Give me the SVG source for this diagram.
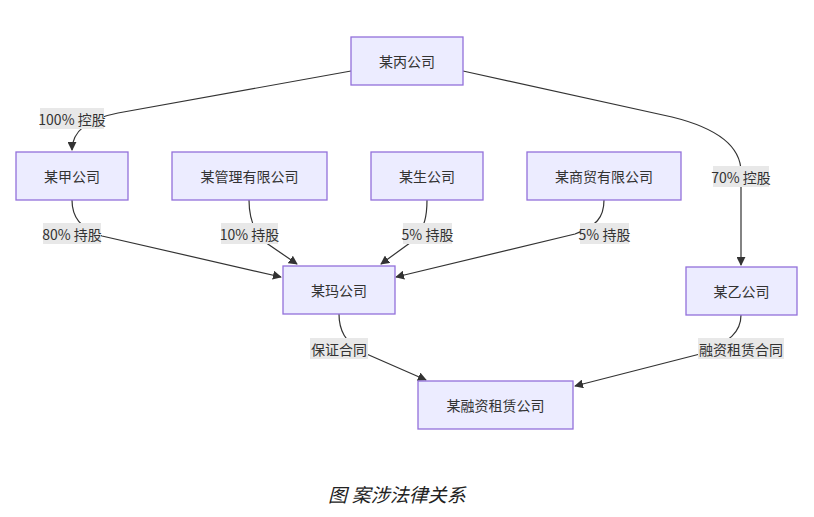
<svg xmlns="http://www.w3.org/2000/svg" width="814" height="517" viewBox="0 0 814 517">
<defs>
<marker id="arrow" viewBox="0 0 10 10" refX="9" refY="5" markerWidth="9" markerHeight="9" markerUnits="userSpaceOnUse" orient="auto">
<path d="M0,0 L10,5 L0,10 z" fill="#333"/>
</marker>
</defs>
<style>
.node rect{fill:#ECECFF;stroke:#9370DB;stroke-width:1.3}
.node text,.lbl text{font-family:"Noto Sans CJK SC","Noto Sans",sans-serif;font-size:14px;fill:#333;text-anchor:middle;dominant-baseline:central}
.edge{fill:none;stroke:#333;stroke-width:1.2;marker-end:url(#arrow)}
.lbl rect{fill:#e8e8e8}
.cap{font-family:"Liberation Serif","Noto Sans CJK SC",serif;font-size:19px;font-style:italic;fill:#222;text-anchor:middle}
</style>
<rect width="814" height="517" fill="#fff"/>
<g id="connectors">
<path class="edge" d="M351,71 L118,113 Q72,122 72,150"/>
<path class="edge" d="M463,71 L672,117 Q741,134 741,172 L741,265"/>
<path class="edge" d="M72,200 C72,217 80,228 102,236 L281,277"/>
<path class="edge" d="M249,200 C249,215 252,228 262,240 L297,264"/>
<path class="edge" d="M427,200 C427,215 425,228 414,240 L381,264"/>
<path class="edge" d="M604,200 C604,218 596,226 575,234 L396,277"/>
<path class="edge" d="M339,314 C339,330 345,342 362,352 L426,380"/>
<path class="edge" d="M741,315 C741,332 730,342 700,354 L575,386"/>
</g>
<g id="labels">
<g class="lbl"><rect x="40" y="108" width="64" height="21"/><text x="72" y="118.5">100% 控股</text></g>
<g class="lbl"><rect x="713" y="166" width="56" height="21"/><text x="741" y="176.5">70% 控股</text></g>
<g class="lbl"><rect x="43" y="223" width="58" height="21"/><text x="72" y="233.5">80% 持股</text></g>
<g class="lbl"><rect x="221" y="223" width="57" height="21"/><text x="249.5" y="233.5">10% 持股</text></g>
<g class="lbl"><rect x="403" y="223" width="49" height="21"/><text x="427.5" y="233.5">5% 持股</text></g>
<g class="lbl"><rect x="580" y="223" width="49" height="21"/><text x="604.5" y="233.5">5% 持股</text></g>
<g class="lbl"><rect x="310" y="338" width="58" height="21"/><text x="339" y="348.5">保证合同</text></g>
<g class="lbl"><rect x="698" y="338" width="86" height="21"/><text x="741" y="348.5">融资租赁合同</text></g>
</g>
<g id="n-bing" class="node"><rect x="351" y="37" width="112" height="48"/><text x="407" y="61">某丙公司</text></g>
<g id="n-jia" class="node"><rect x="16" y="152" width="112" height="48"/><text x="72" y="176">某甲公司</text></g>
<g id="n-guanli" class="node"><rect x="172" y="152" width="155" height="48"/><text x="249.5" y="176">某管理有限公司</text></g>
<g id="n-sheng" class="node"><rect x="371" y="152" width="112" height="48"/><text x="427" y="176">某生公司</text></g>
<g id="n-shangmao" class="node"><rect x="527" y="152" width="154" height="48"/><text x="604" y="176">某商贸有限公司</text></g>
<g id="n-ma" class="node"><rect x="283" y="266" width="112" height="48"/><text x="339" y="290">某玛公司</text></g>
<g id="n-yi" class="node"><rect x="686" y="267" width="111" height="48"/><text x="741.5" y="291">某乙公司</text></g>
<g id="n-rongzi" class="node"><rect x="418" y="381" width="155" height="48"/><text x="495.5" y="405">某融资租赁公司</text></g>
<text class="cap" x="397" y="502">图 案涉法律关系</text>
</svg>
